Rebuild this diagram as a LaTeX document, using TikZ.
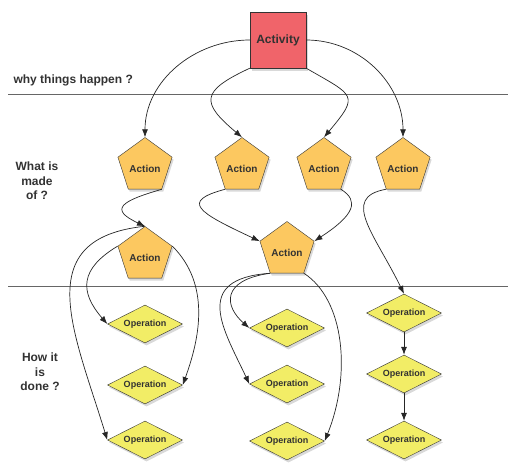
\documentclass[tikz,border=0pt]{standalone}
\usepackage{fontspec}
\setmainfont{Liberation Sans}
\usetikzlibrary{shadows}
\usetikzlibrary{positioning}
\usetikzlibrary{arrows.meta,shapes}
\usetikzlibrary{calc}

\definecolor{actred}{RGB}{240,100,106}
\definecolor{actorange}{RGB}{252,200,96}
\definecolor{opyellow}{RGB}{242,237,102}
\definecolor{txtgray}{RGB}{50,50,50}

\begin{document}
\begin{tikzpicture}[x=1pt, y=1pt,
  activity/.style={draw=black!80, fill=actred, minimum size=56pt, inner sep=0pt,
    font=\fontsize{12}{14}\selectfont\bfseries, text=txtgray,
    drop shadow={shadow xshift=1.5pt, shadow yshift=-2.5pt, opacity=0.3}},
  action/.style={regular polygon, regular polygon sides=5, draw=black!80, fill=actorange,
    minimum size=57pt, inner sep=0pt, text height=13pt, text depth=0pt,
    font=\fontsize{10}{12}\selectfont\bfseries, text=txtgray,
    drop shadow={shadow xshift=1.5pt, shadow yshift=-2.5pt, opacity=0.3}},
  operation/.style={diamond, aspect=2, draw=black!80, fill=opyellow,
    minimum width=75pt, minimum height=38pt, inner sep=0pt,
    font=\fontsize{9}{11}\selectfont\bfseries, text=txtgray,
    drop shadow={shadow xshift=1.5pt, shadow yshift=-2.5pt, opacity=0.3}},
  level/.style={font=\fontsize{12}{14.5}\selectfont\bfseries, text=txtgray, align=center},
  link/.style={-{Latex[length=8pt,width=6pt]}, black!85, line width=0.7pt},
  sep/.style={black!60, line width=1pt}]

 \useasboundingbox (0,0) rectangle (508,-463);

 %separators
 \coordinate (s1w) at (8,-94);
 \coordinate (s1e) at (508,-94);
 \coordinate (s2w) at (8,-286);
 \coordinate (s2e) at (508,-286);
 \draw[sep] (s1w) -- (s1e);
 \draw[sep] (s2w) -- (s2e);

 %level 1
 \node[activity] (act) at (278,-40) {Activity};

 %level 2
 \foreach \i/\x in {1/145, 2/242, 3/324, 4/403} {
   \node[action] (a\i) at (\x,-166) {Action};
 }

 %level 3
 \node[action] (b1) at (145,-255) {Action};
 \node[action] (b2) at (287,-250) {Action};

 %operations
 \foreach \i/\y in {1/324, 2/385, 3/440} {
   \node[operation] (o1\i) at (145,-\y) {Operation};
 }
 \foreach \i/\y in {1/328, 2/384, 3/441} {
   \node[operation] (o2\i) at (287,-\y) {Operation};
 }
 \foreach \i/\y in {1/313, 2/374, 3/440} {
   \node[operation] (o3\i) at (404,-\y) {Operation};
 }

 %questions
 \node[level, anchor=west] (why) at (10,-80) {why things happen ?};
 \node[level] (made) at (37,-181) {What is\\made\\of ?};
 \node[level] (done) at (40,-372) {How it\\is\\done ?};

 %links
 \draw[link] (act.west) to[out=180,in=90] (a1.north);
 \draw[link] (act.south west) to[out=205,in=140,looseness=2] (a2.north);
 \draw[link] (act.south east) to[out=-30,in=50,looseness=2] (a3.north);
 \draw[link] (act.east) to[out=0,in=90] (a4.north);
 \draw[link] (a1.corner 4) to[out=196,in=155,out distance=43pt,in distance=40pt] (b1.north);
 \draw[link] (a2.corner 3) to[out=195,in=155,out distance=47pt,in distance=68pt] (b2.corner 2);
 \draw[link] (a3.corner 4) to[out=-32,in=33,out distance=22pt,in distance=48pt] (b2.corner 5);
 \draw[link] (a4.corner 3) to[out=190,in=116,out distance=47pt,in distance=66pt] (o31.north);
 \draw[link] (b1.north) to[out=186,in=107,out distance=117pt,in distance=113pt] (o13.west);
 \draw[link] (b1.corner 2) to[out=211,in=131,out distance=44pt,in distance=43pt] (o11.west);
 \draw[link] (b1.corner 5) to[out=-45,in=70,out distance=54pt,in distance=51pt] (o12.east);
 \draw[link] (b2.corner 3) to[out=184,in=115,out distance=80pt,in distance=59pt] (o22.west);
 \draw[link] (b2.corner 3) to[out=188,in=139,out distance=50pt,in distance=33pt] (o21.west);
 \draw[link] (b2.corner 4) to[out=-33,in=68,out distance=49pt,in distance=71pt] (o23.east);
 \draw[link] (o31) -- (o32);
 \draw[link] (o32) -- (o33);

\end{tikzpicture}
\end{document}
